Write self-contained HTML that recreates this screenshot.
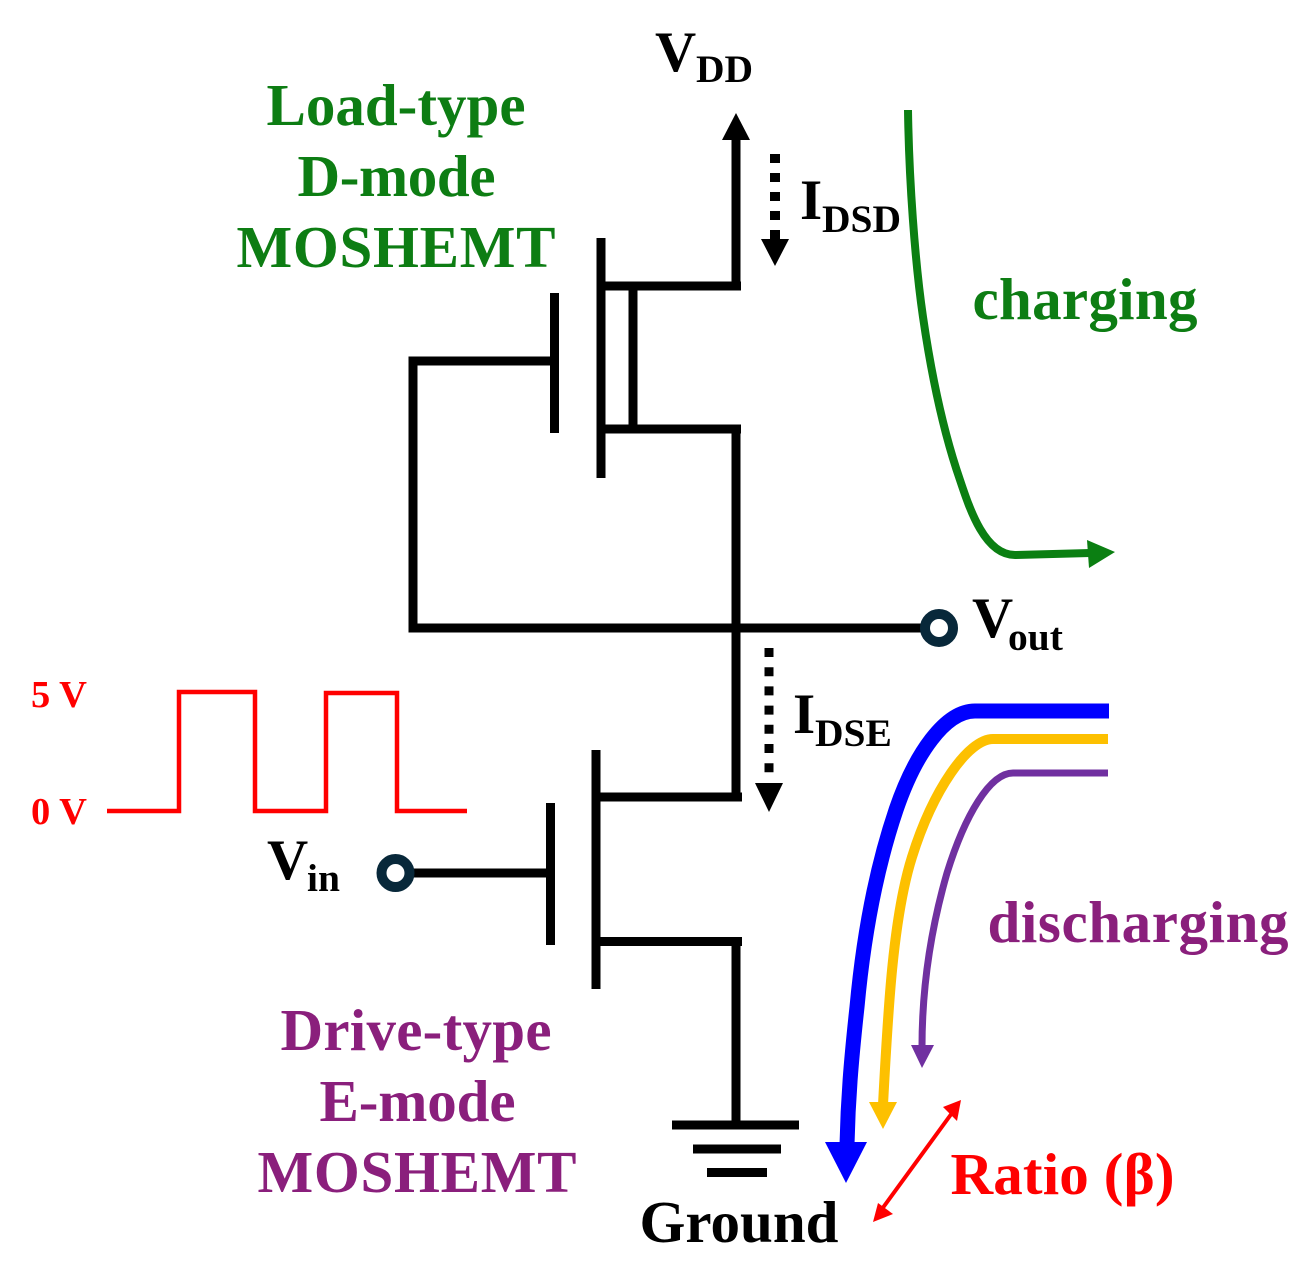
<!DOCTYPE html>
<html><head><meta charset="utf-8"><style>
html,body{margin:0;padding:0;background:#fff}
svg{display:block}
text{font-family:"Liberation Serif",serif;font-weight:bold}
</style></head><body>
<svg width="1310" height="1277" viewBox="0 0 1310 1277" xmlns="http://www.w3.org/2000/svg">
<g fill="none" stroke="#000" stroke-width="9">
<path d="M741 286H601M601 238V478M554.500 293V433M554 361H413V628H925"/>
<path d="M633 286V429M601 429H741M736 425V797"/>
<path d="M736 290V130"/>
<path d="M596 750V989M550.500 803V945M550 873H410M596 797H742M596 941.500H742M736 937V1125"/>
<path d="M672 1125H799M693 1149H781M707 1172.500H767"/>
</g>
<polygon points="736,113 722,140 750,140" fill="#000"/>
<path d="M775 154V240" stroke="#000" stroke-width="10" stroke-dasharray="9 10" fill="none"/>
<polygon points="775,266 761,239 789,239" fill="#000"/>
<path d="M769 648V775" stroke="#000" stroke-width="9" stroke-dasharray="9 10.200" fill="none"/>
<polygon points="769,812 755,783 783,783" fill="#000"/>
<circle cx="939" cy="628" r="14" fill="#fff" stroke="#08283a" stroke-width="10"/>
<circle cx="395.500" cy="873" r="14" fill="#fff" stroke="#08283a" stroke-width="10"/>
<path d="M107 811H179V692H255V811H326V693H397V811H467" fill="none" stroke="#f00" stroke-width="4.500"/>
<path d="M908 110C909 180 915 262 923 317C931 372 942 428 960 480C970 510 985 555 1015 555L1090 553" fill="none" stroke="#0b7f12" stroke-width="8"/>
<polygon points="1115,552 1087,540 1089,568" fill="#0b7f12"/>
<path d="M1109 711H975C945 711 915 754 896 810C874 875 863 942 857 1007C851 1062 848 1100 847 1145" fill="none" stroke="#0000ff" stroke-width="15"/>
<polygon points="846,1183 825,1142 867,1142" fill="#0000ff"/>
<path d="M1108 739H993C968 739 933 790 912 857C893 917 888 1010 883 1105" fill="none" stroke="#fdc000" stroke-width="10"/>
<polygon points="883,1129 869,1102 897,1102" fill="#fdc000"/>
<path d="M1108 773H1013C990 773 965 815 947 873C932 925 922 985 922 1047" fill="none" stroke="#7030a0" stroke-width="7"/>
<polygon points="922,1068 911,1045 934,1045" fill="#7030a0"/>
<path d="M952 1113L882 1209" stroke="#f00" stroke-width="4" fill="none"/>
<polygon points="961,1100 943,1107 957,1121" fill="#f00"/>
<polygon points="873,1222 878,1203 893,1214" fill="#f00"/>
<g fill="#0d7d13" font-size="59" text-anchor="middle">
<text x="396" y="125" textLength="259">Load-type</text>
<text x="396.500" y="196" textLength="198">D-mode</text>
<text x="396" y="267" textLength="319">MOSHEMT</text>
<text x="1085" y="319" textLength="225">charging</text>
</g>
<g fill="#8a1f7c" font-size="59" text-anchor="middle">
<text x="416" y="1050" textLength="271">Drive-type</text>
<text x="417.500" y="1121" textLength="196">E-mode</text>
<text x="417" y="1192" textLength="319">MOSHEMT</text>
<text x="1138" y="942" textLength="301">discharging</text>
</g>
<g fill="#000">
<text x="655" y="71" font-size="57">V</text><text x="696" y="82" font-size="39.500">DD</text>
<text x="800" y="219" font-size="57">I</text><text x="822" y="232" font-size="39.500">DSD</text>
<text x="972" y="637" font-size="57">V</text><text x="1008" y="650" font-size="39.500">out</text>
<text x="793" y="733" font-size="57">I</text><text x="815" y="746" font-size="39.500">DSE</text>
<text x="267" y="879" font-size="57">V</text><text x="307" y="891" font-size="39.500">in</text>
<text x="739" y="1242" font-size="59" text-anchor="middle" textLength="199">Ground</text>
</g>
<g fill="#f00">
<text x="31" y="707" font-size="38.500">5 V</text>
<text x="31" y="824" font-size="38.500">0 V</text>
<text x="1062.500" y="1194" font-size="59" text-anchor="middle" textLength="224">Ratio (β)</text>
</g>
</svg>
</body></html>
